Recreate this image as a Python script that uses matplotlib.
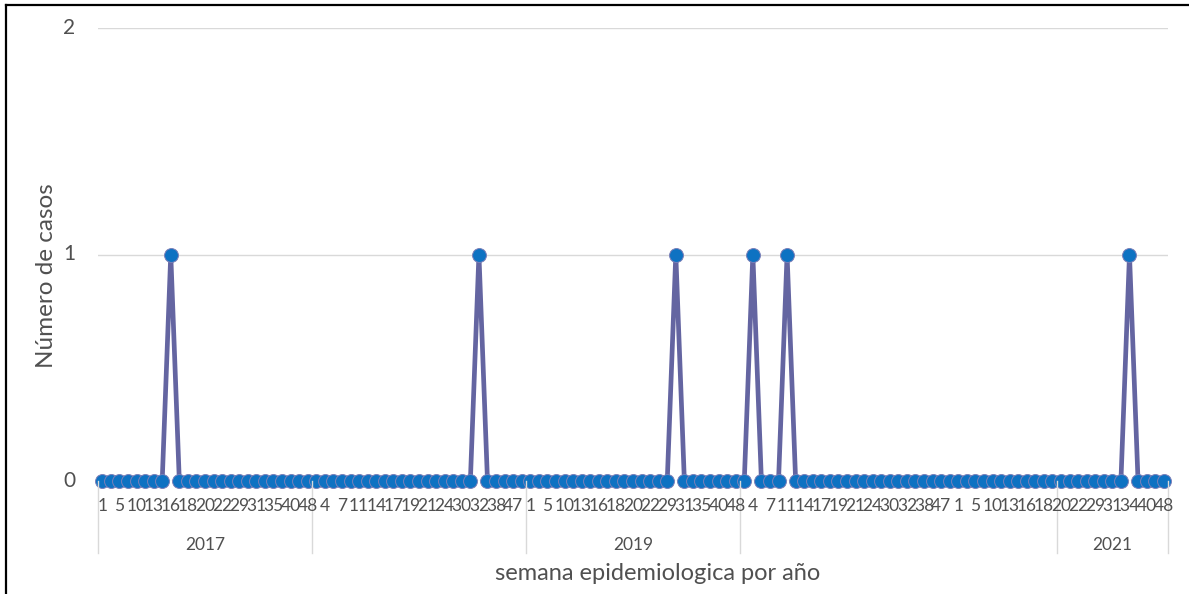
import matplotlib
matplotlib.use("Agg")
import matplotlib.pyplot as plt
from matplotlib.lines import Line2D
import matplotlib.transforms as mtransforms

# ---------------- data ----------------
years = ["2017", "2018", "2019", "2020", "2021"]
weeks_2017 = [1, 3, 5, 8, 10, 12, 13, 15, 16, 17, 18, 19, 20, 21, 22, 25, 29, 30, 31, 33, 35, 38, 40, 45, 48]
weeks_2018 = [2, 4, 6, 7, 9, 11, 12, 14, 15, 17, 18, 19, 20, 21, 23, 24, 27, 30, 31, 32, 35, 38, 42, 47, 50]
weeks_2019 = [1, 3, 5, 8, 10, 12, 13, 15, 16, 17, 18, 19, 20, 21, 22, 25, 29, 30, 31, 33, 35, 38, 40, 45, 48]
weeks_2020 = [2, 4, 6, 7, 9, 11, 12, 14, 15, 17, 18, 19, 20, 21, 23, 24, 27, 30, 31, 32, 35, 38, 42, 47, 50,
              1, 3, 5, 8, 10, 12, 13, 15, 16, 17, 18, 19]
weeks_2021 = [20, 21, 22, 25, 29, 30, 31, 33, 34, 38, 40, 45, 48]

cases_2017 = [0, 0, 0, 0, 0, 0, 0, 0, 1, 0, 0, 0, 0, 0, 0, 0, 0, 0, 0, 0, 0, 0, 0, 0, 0]
cases_2018 = [0, 0, 0, 0, 0, 0, 0, 0, 0, 0, 0, 0, 0, 0, 0, 0, 0, 0, 0, 1, 0, 0, 0, 0, 0]
cases_2019 = [0, 0, 0, 0, 0, 0, 0, 0, 0, 0, 0, 0, 0, 0, 0, 0, 0, 1, 0, 0, 0, 0, 0, 0, 0]
cases_2020 = [0, 1, 0, 0, 0, 1, 0, 0, 0, 0, 0, 0, 0, 0, 0, 0, 0, 0, 0, 0, 0, 0, 0, 0, 0,
              0, 0, 0, 0, 0, 0, 0, 0, 0, 0, 0, 0]
cases_2021 = [0, 0, 0, 0, 0, 0, 0, 0, 1, 0, 0, 0, 0]

year_labels_shown = ["2017", "", "2019", "", "2021"]
y_ticks = [0, 1, 2]

week_groups = [weeks_2017, weeks_2018, weeks_2019, weeks_2020, weeks_2021]
case_groups = [cases_2017, cases_2018, cases_2019, cases_2020, cases_2021]

weeks = [w for g in week_groups for w in g]
cases = [c for g in case_groups for c in g]
x = list(range(len(weeks)))

# ---------------- figure ----------------
W, H = 1189, 594
fig = plt.figure(figsize=(W / 100, H / 100), dpi=100)
plt.rcParams['font.family'] = ['Lato', 'DejaVu Sans']

left_px, right_px, top_px, bottom_px = 98, 1168, 28, 481
ax = fig.add_axes([left_px / W, 1 - bottom_px / H, (right_px - left_px) / W, (bottom_px - top_px) / H])
ax.set_xlim(-0.5, len(weeks) - 0.5)
ax.set_ylim(0, 2)

txt_color = "#505050"
grid_color = "#d9d9d9"

for yv in y_ticks:
    ax.axhline(yv, color=grid_color, lw=1, zorder=0)

ax.plot(x, cases, color="#6465a1", lw=3.4, zorder=2, clip_on=False,
        marker="o", markersize=10, markerfacecolor="#0e72c2",
        markeredgecolor="#7b7fb8", markeredgewidth=0.7)

for s in ax.spines.values():
    s.set_visible(False)
ax.set_xticks([])
ax.set_yticks([])

# y tick labels
for yv in y_ticks:
    ax.text(-0.021, yv, str(yv), transform=mtransforms.blended_transform_factory(ax.transAxes, ax.transData),
            ha="right", va="center", fontsize=15, color=txt_color)

# week labels (every other category shown)
ax_h = bottom_px - top_px
trans_x = mtransforms.blended_transform_factory(ax.transData, ax.transAxes)
wk_y = (bottom_px - 506) / ax_h
for i in range(0, len(weeks), 2):
    ax.text(i, wk_y, str(weeks[i]), transform=trans_x, ha="center", va="center",
            fontsize=12.5, color=txt_color)

# year group separators and labels
bounds = [-0.5]
for g in week_groups:
    bounds.append(bounds[-1] + len(g))
sep_bottom = (bottom_px - 553) / ax_h
for b in bounds:
    ax.add_line(Line2D([b, b], [0, sep_bottom], transform=trans_x, color=grid_color,
                       lw=1, clip_on=False))
yr_y = (bottom_px - 545) / ax_h
for k, lab in enumerate(year_labels_shown):
    if lab:
        ax.text((bounds[k] + bounds[k + 1]) / 2, yr_y, lab, transform=trans_x, ha="center",
                va="center", fontsize=12.5, color=txt_color)

# axis titles
fig.text(658 / W, 1 - 574 / H, "semana epidemiologica por año", ha="center", va="center",
         fontsize=17, color=txt_color)
fig.text(47 / W, 1 - 276 / H, "Número de casos", ha="center", va="center", rotation=90,
         fontsize=17.5, color=txt_color)

# outer border (left and top)
fig.add_artist(Line2D([6 / W, 6 / W], [0, 1 - 5 / H], transform=fig.transFigure, color="black", lw=1.6))
fig.add_artist(Line2D([6 / W, 1], [1 - 5 / H, 1 - 5 / H], transform=fig.transFigure, color="black", lw=1.6))

fig.savefig("out.png", dpi=100)
